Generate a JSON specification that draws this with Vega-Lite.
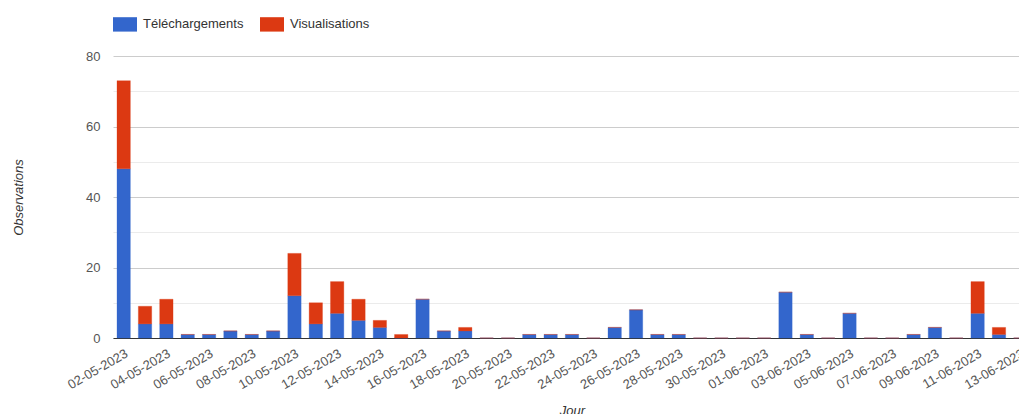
{
  "$schema": "https://vega.github.io/schema/vega-lite/v6.json",
  "width": 906,
  "height": 282,
  "autosize": {"type": "none"},
  "padding": {"left": 113, "top": 56, "right": 0, "bottom": 76},
  "background": "white",
  "config": {"view": {"stroke": null}, "font": "Arial, Liberation Sans, sans-serif"},
  "data": {"values": [
    {"d":"02-05-2023","s":"Téléchargements","v":48},{"d":"02-05-2023","s":"Visualisations","v":25},
    {"d":"03-05-2023","s":"Téléchargements","v":4},{"d":"03-05-2023","s":"Visualisations","v":5},
    {"d":"04-05-2023","s":"Téléchargements","v":4},{"d":"04-05-2023","s":"Visualisations","v":7},
    {"d":"05-05-2023","s":"Téléchargements","v":1},{"d":"05-05-2023","s":"Visualisations","v":0},
    {"d":"06-05-2023","s":"Téléchargements","v":1},{"d":"06-05-2023","s":"Visualisations","v":0},
    {"d":"07-05-2023","s":"Téléchargements","v":2},{"d":"07-05-2023","s":"Visualisations","v":0},
    {"d":"08-05-2023","s":"Téléchargements","v":1},{"d":"08-05-2023","s":"Visualisations","v":0},
    {"d":"09-05-2023","s":"Téléchargements","v":2},{"d":"09-05-2023","s":"Visualisations","v":0},
    {"d":"10-05-2023","s":"Téléchargements","v":12},{"d":"10-05-2023","s":"Visualisations","v":12},
    {"d":"11-05-2023","s":"Téléchargements","v":4},{"d":"11-05-2023","s":"Visualisations","v":6},
    {"d":"12-05-2023","s":"Téléchargements","v":7},{"d":"12-05-2023","s":"Visualisations","v":9},
    {"d":"13-05-2023","s":"Téléchargements","v":5},{"d":"13-05-2023","s":"Visualisations","v":6},
    {"d":"14-05-2023","s":"Téléchargements","v":3},{"d":"14-05-2023","s":"Visualisations","v":2},
    {"d":"15-05-2023","s":"Téléchargements","v":0},{"d":"15-05-2023","s":"Visualisations","v":1},
    {"d":"16-05-2023","s":"Téléchargements","v":11},{"d":"16-05-2023","s":"Visualisations","v":0},
    {"d":"17-05-2023","s":"Téléchargements","v":2},{"d":"17-05-2023","s":"Visualisations","v":0},
    {"d":"18-05-2023","s":"Téléchargements","v":2},{"d":"18-05-2023","s":"Visualisations","v":1},
    {"d":"19-05-2023","s":"Téléchargements","v":0},{"d":"19-05-2023","s":"Visualisations","v":0},
    {"d":"20-05-2023","s":"Téléchargements","v":0},{"d":"20-05-2023","s":"Visualisations","v":0},
    {"d":"21-05-2023","s":"Téléchargements","v":1},{"d":"21-05-2023","s":"Visualisations","v":0},
    {"d":"22-05-2023","s":"Téléchargements","v":1},{"d":"22-05-2023","s":"Visualisations","v":0},
    {"d":"23-05-2023","s":"Téléchargements","v":1},{"d":"23-05-2023","s":"Visualisations","v":0},
    {"d":"24-05-2023","s":"Téléchargements","v":0},{"d":"24-05-2023","s":"Visualisations","v":0},
    {"d":"25-05-2023","s":"Téléchargements","v":3},{"d":"25-05-2023","s":"Visualisations","v":0},
    {"d":"26-05-2023","s":"Téléchargements","v":8},{"d":"26-05-2023","s":"Visualisations","v":0},
    {"d":"27-05-2023","s":"Téléchargements","v":1},{"d":"27-05-2023","s":"Visualisations","v":0},
    {"d":"28-05-2023","s":"Téléchargements","v":1},{"d":"28-05-2023","s":"Visualisations","v":0},
    {"d":"29-05-2023","s":"Téléchargements","v":0},{"d":"29-05-2023","s":"Visualisations","v":0},
    {"d":"30-05-2023","s":"Téléchargements","v":0},{"d":"30-05-2023","s":"Visualisations","v":0},
    {"d":"31-05-2023","s":"Téléchargements","v":0},{"d":"31-05-2023","s":"Visualisations","v":0},
    {"d":"01-06-2023","s":"Téléchargements","v":0},{"d":"01-06-2023","s":"Visualisations","v":0},
    {"d":"02-06-2023","s":"Téléchargements","v":13},{"d":"02-06-2023","s":"Visualisations","v":0},
    {"d":"03-06-2023","s":"Téléchargements","v":1},{"d":"03-06-2023","s":"Visualisations","v":0},
    {"d":"04-06-2023","s":"Téléchargements","v":0},{"d":"04-06-2023","s":"Visualisations","v":0},
    {"d":"05-06-2023","s":"Téléchargements","v":7},{"d":"05-06-2023","s":"Visualisations","v":0},
    {"d":"06-06-2023","s":"Téléchargements","v":0},{"d":"06-06-2023","s":"Visualisations","v":0},
    {"d":"07-06-2023","s":"Téléchargements","v":0},{"d":"07-06-2023","s":"Visualisations","v":0},
    {"d":"08-06-2023","s":"Téléchargements","v":1},{"d":"08-06-2023","s":"Visualisations","v":0},
    {"d":"09-06-2023","s":"Téléchargements","v":3},{"d":"09-06-2023","s":"Visualisations","v":0},
    {"d":"10-06-2023","s":"Téléchargements","v":0},{"d":"10-06-2023","s":"Visualisations","v":0},
    {"d":"11-06-2023","s":"Téléchargements","v":7},{"d":"11-06-2023","s":"Visualisations","v":9},
    {"d":"12-06-2023","s":"Téléchargements","v":1},{"d":"12-06-2023","s":"Visualisations","v":2},
    {"d":"13-06-2023","s":"Téléchargements","v":0},{"d":"13-06-2023","s":"Visualisations","v":0}
  ]},
  "mark": {"type": "bar", "strokeWidth": 1, "strokeOpacity": 0.3},
  "encoding": {
    "x": {
      "field": "d", "type": "ordinal", "sort": null,
      "scale": {"range": [0, 918], "paddingInner": 0.375, "paddingOuter": 0.1875},
      "axis": {
        "values": ["02-05-2023","04-05-2023","06-05-2023","08-05-2023","10-05-2023","12-05-2023","14-05-2023","16-05-2023","18-05-2023","20-05-2023","22-05-2023","24-05-2023","26-05-2023","28-05-2023","30-05-2023","01-06-2023","03-06-2023","05-06-2023","07-06-2023","09-06-2023","11-06-2023","13-06-2023"],
        "labelAngle": -30, "labelFontSize": 13, "labelColor": "#555555",
        "ticks": false, "labelPadding": 9, "domainColor": "#333333", "domainWidth": 1,
        "grid": false, "title": "Jour", "titleFontStyle": "italic", "titleFontWeight": "normal",
        "titleFontSize": 13, "titleColor": "#333333", "titlePadding": 13
      }
    },
    "y": {
      "field": "v", "type": "quantitative", "stack": "zero",
      "scale": {"domain": [0, 80], "nice": false},
      "axis": {
        "values": [0, 10, 20, 30, 40, 50, 60, 70, 80],
        "labelExpr": "datum.value % 20 == 0 ? datum.label : ''",
        "gridColor": {"condition": {"test": "datum.value % 20 == 0", "value": "#cccccc"}, "value": "#ebebeb"},
        "domain": false, "ticks": false, "labelPadding": 13, "labelFontSize": 13, "labelColor": "#555555",
        "title": "Observations", "titleFontStyle": "italic", "titleFontWeight": "normal",
        "titleFontSize": 13, "titleColor": "#333333", "titlePadding": 60
      }
    },
    "color": {
      "field": "s", "type": "nominal",
      "scale": {"domain": ["Téléchargements", "Visualisations"], "range": ["#3366cc", "#dc3912"]},
      "legend": {
        "orient": "none", "legendX": 0, "legendY": -44, "direction": "horizontal", "title": null,
        "symbolType": "M-1,-0.6L1,-0.6L1,0.6L-1,0.6Z", "symbolSize": 576, "symbolStrokeWidth": 0,
        "symbolOpacity": 1,
        "labelFontSize": 13, "labelColor": "#333333", "labelOffset": 6, "columnPadding": 16, "labelLimit": 300
      }
    },
    "stroke": {
      "field": "s", "type": "nominal",
      "scale": {"domain": ["Téléchargements", "Visualisations"], "range": ["#3366cc", "#dc3912"]},
      "legend": null
    },
    "order": {"field": "s", "sort": "ascending"}
  }
}
